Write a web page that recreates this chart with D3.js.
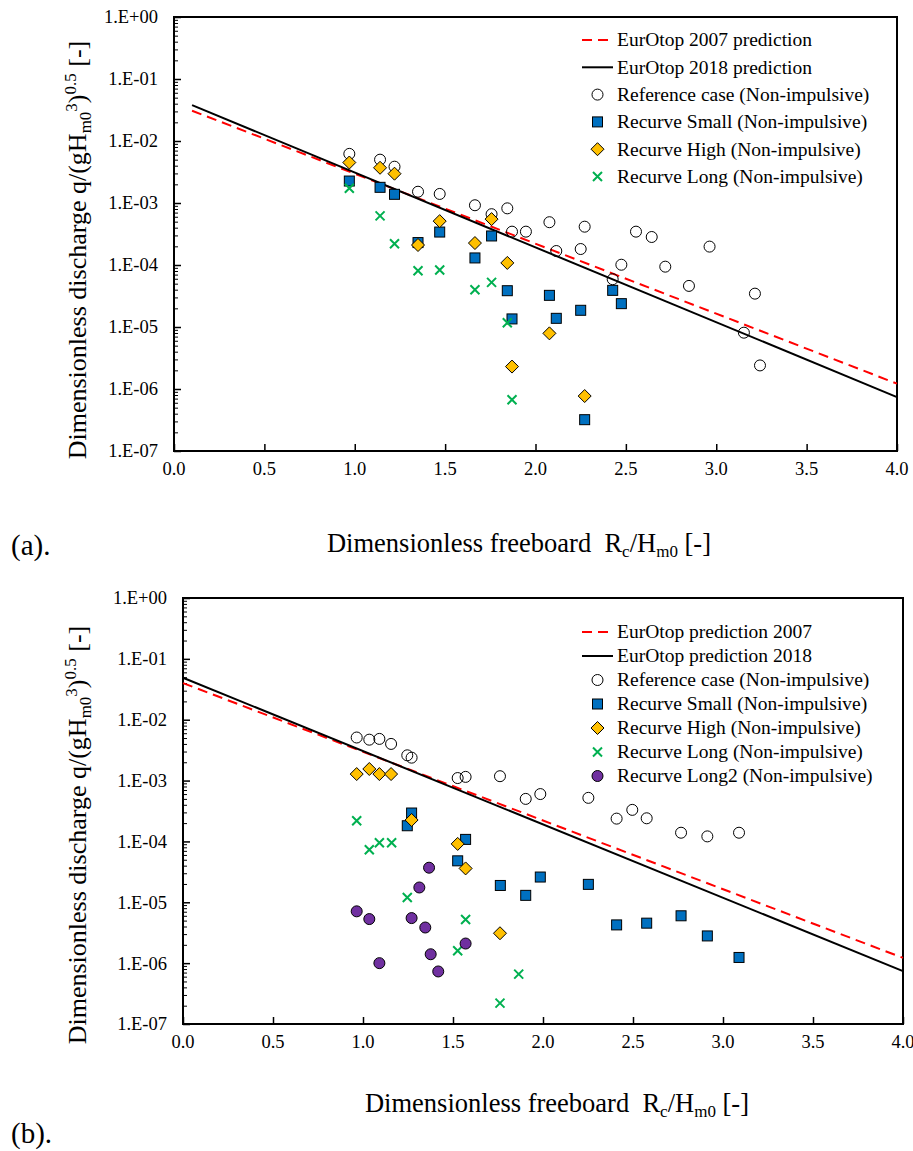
<!DOCTYPE html>
<html><head><meta charset="utf-8">
<script src="https://cdn.jsdelivr.net/npm/d3@7"></script>
<style>
body{margin:0;background:#fff}
svg{display:block}
</style>
</head><body>
<svg id="chart" width="913" height="1151" font-family="Liberation Serif, Times New Roman, DejaVu Serif, serif"></svg>
<script>
// ---------- data ----------
const xTicks = [0, 0.5, 1, 1.5, 2, 2.5, 3, 3.5, 4];
const xTickLabels = ["0.0","0.5","1.0","1.5","2.0","2.5","3.0","3.5","4.0"];
const yTicks = [1, 1e-1, 1e-2, 1e-3, 1e-4, 1e-5, 1e-6, 1e-7];
const yTickLabels = ["1.E+00","1.E-01","1.E-02","1.E-03","1.E-04","1.E-05","1.E-06","1.E-07"];

// Panel (a)
const predA2007_x = [0.1, 4.0];
const predA2007_y = [0.0308, 1.22e-6];
const predA2018_x = [0.1, 4.0];
const predA2018_y = [0.0379, 7.4e-7];
const refA_x = [0.97, 1.14, 1.22, 1.35, 1.47, 1.665, 1.757, 1.844, 1.87, 1.947, 2.077, 2.115, 2.25, 2.272, 2.427, 2.475, 2.556, 2.643, 2.718, 2.849, 2.963, 3.153, 3.214, 3.242];
const refA_y = [6.2e-3, 5.0e-3, 3.85e-3, 1.52e-3, 1.4e-3, 9.2e-4, 6.6e-4, 8.2e-4, 3.45e-4, 3.45e-4, 4.9e-4, 1.68e-4, 1.81e-4, 4.15e-4, 5.9e-5, 1.01e-4, 3.45e-4, 2.83e-4, 9.4e-5, 4.6e-5, 1.98e-4, 8.1e-6, 3.45e-5, 2.4e-6];
const smallA_x = [0.97, 1.14, 1.22, 1.35, 1.47, 1.665, 1.757, 1.844, 1.87, 2.077, 2.115, 2.25, 2.272, 2.427, 2.475];
const smallA_y = [2.26e-3, 1.79e-3, 1.38e-3, 2.3e-4, 3.4e-4, 1.3e-4, 2.94e-4, 3.85e-5, 1.35e-5, 3.24e-5, 1.38e-5, 1.86e-5, 3.2e-7, 3.9e-5, 2.38e-5];
const highA_x = [0.97, 1.14, 1.22, 1.35, 1.47, 1.665, 1.757, 1.844, 1.87, 2.077, 2.272];
const highA_y = [4.5e-3, 3.7e-3, 2.97e-3, 2.1e-4, 5.1e-4, 2.26e-4, 5.5e-4, 1.08e-4, 2.3e-6, 7.9e-6, 7.7e-7];
const longA_x = [0.97, 1.14, 1.22, 1.35, 1.47, 1.665, 1.757, 1.844, 1.87];
const longA_y = [1.73e-3, 6.2e-4, 2.2e-4, 8.1e-5, 8.3e-5, 4.0e-5, 5.25e-5, 1.17e-5, 6.7e-7];

// Panel (b)
const predB2007_x = [0.0, 4.0];
const predB2007_y = [0.040, 1.22e-6];
const predB2018_x = [0.0, 4.0];
const predB2018_y = [0.049, 7.4e-7];
const refB_x = [0.965, 1.035, 1.091, 1.156, 1.246, 1.27, 1.526, 1.57, 1.761, 1.904, 1.985, 2.252, 2.409, 2.496, 2.576, 2.767, 2.913, 3.089];
const refB_y = [5.1e-3, 4.7e-3, 4.84e-3, 4.0e-3, 2.6e-3, 2.38e-3, 1.1e-3, 1.15e-3, 1.18e-3, 5.0e-4, 6.0e-4, 5.2e-4, 2.37e-4, 3.3e-4, 2.4e-4, 1.39e-4, 1.21e-4, 1.39e-4];
const smallB_x = [1.246, 1.27, 1.526, 1.57, 1.763, 1.904, 1.985, 2.252, 2.409, 2.576, 2.767, 2.913, 3.089];
const smallB_y = [1.81e-4, 2.93e-4, 4.8e-5, 1.08e-4, 1.89e-5, 1.3e-5, 2.6e-5, 1.97e-5, 4.25e-6, 4.54e-6, 6.0e-6, 2.8e-6, 1.24e-6];
const highB_x = [0.965, 1.035, 1.091, 1.156, 1.27, 1.526, 1.57, 1.761];
const highB_y = [1.28e-3, 1.55e-3, 1.28e-3, 1.28e-3, 2.25e-4, 9.1e-5, 3.6e-5, 3.1e-6];
const longB_x = [0.965, 1.035, 1.091, 1.159, 1.246, 1.526, 1.57, 1.761, 1.865];
const longB_y = [2.19e-4, 7.3e-5, 9.5e-5, 9.5e-5, 1.2e-5, 1.6e-6, 5.2e-6, 2.2e-7, 6.6e-7];
const long2B_x = [0.965, 1.035, 1.091, 1.27, 1.313, 1.346, 1.367, 1.376, 1.418, 1.57];
const long2B_y = [7.1e-6, 5.3e-6, 1.0e-6, 5.5e-6, 1.75e-5, 3.85e-6, 3.7e-5, 1.4e-6, 7.3e-7, 2.1e-6];

const legendA = ["EurOtop 2007 prediction","EurOtop 2018 prediction","Reference case (Non-impulsive)","Recurve Small (Non-impulsive)","Recurve High (Non-impulsive)","Recurve Long (Non-impulsive)"];
const legendB = ["EurOtop prediction 2007","EurOtop prediction 2018","Reference case (Non-impulsive)","Recurve Small (Non-impulsive)","Recurve High (Non-impulsive)","Recurve Long (Non-impulsive)","Recurve Long2 (Non-impulsive)"];

// ---------- drawing ----------
const FONT = "'Liberation Serif', 'Times New Roman', 'DejaVu Serif', serif";
const svg = d3.select("#chart");
const zip = (xs, ys) => xs.map((x, i) => [x, ys[i]]);

function marker(g, type, cx, cy) {
  if (type === "circle") {
    g.append("circle").attr("cx", cx).attr("cy", cy).attr("r", 5.5)
      .attr("fill", "none").attr("stroke", "#000").attr("stroke-width", 1);
  } else if (type === "square") {
    g.append("rect").attr("x", cx - 5).attr("y", cy - 5).attr("width", 10).attr("height", 10)
      .attr("fill", "#0070C0").attr("stroke", "#000").attr("stroke-width", 1);
  } else if (type === "diamond") {
    const s = 6.5;
    g.append("path").attr("d", `M${cx},${cy - s}L${cx + s},${cy}L${cx},${cy + s}L${cx - s},${cy}Z`)
      .attr("fill", "#FFC000").attr("stroke", "#000").attr("stroke-width", 1);
  } else if (type === "cross") {
    const s = 4.5;
    g.append("path").attr("d", `M${cx - s},${cy - s}L${cx + s},${cy + s}M${cx - s},${cy + s}L${cx + s},${cy - s}`)
      .attr("fill", "none").attr("stroke", "#00B050").attr("stroke-width", 2);
  } else if (type === "purple") {
    g.append("circle").attr("cx", cx).attr("cy", cy).attr("r", 5.5)
      .attr("fill", "#7030A0").attr("stroke", "#000").attr("stroke-width", 1);
  }
}

function txt(g) {
  return g.append("text").attr("font-family", FONT).attr("fill", "#000");
}

function drawPanel(cfg) {
  const x = d3.scaleLinear().domain([0, 4]).range([cfg.left, cfg.right]);
  const y = d3.scaleLog().domain([1e-7, 1]).range([cfg.bottom, cfg.top]);
  const g = svg.append("g");

  // y axis (ticks inside)
  const minor = [];
  for (let d = -7; d < 0; d++) for (let k = 2; k <= 9; k++) minor.push(k * Math.pow(10, d));
  g.append("g").attr("transform", `translate(${cfg.left},0)`)
    .call(d3.axisRight(y).tickValues(minor).tickSize(4).tickFormat(""))
    .call(a => a.select(".domain").remove())
    .call(a => a.selectAll("line").attr("stroke", "#000").attr("stroke-width", 1));
  g.append("g").attr("transform", `translate(${cfg.left},0)`)
    .call(d3.axisRight(y).tickValues(yTicks).tickSize(7).tickFormat(""))
    .call(a => a.select(".domain").remove())
    .call(a => a.selectAll("line").attr("stroke", "#000").attr("stroke-width", 1.5));
  yTicks.forEach((v, i) => {
    txt(g).attr("x", cfg.left - 16).attr("y", y(v)).attr("dy", "0.35em")
      .attr("text-anchor", "end").attr("font-size", 18.5).text(yTickLabels[i]);
  });

  // x axis (ticks inside)
  g.append("g").attr("transform", `translate(0,${cfg.bottom})`)
    .call(d3.axisTop(x).tickValues(xTicks).tickSize(7).tickFormat(""))
    .call(a => a.select(".domain").remove())
    .call(a => a.selectAll("line").attr("stroke", "#000").attr("stroke-width", 1.5));
  xTicks.forEach((v, i) => {
    txt(g).attr("x", x(v)).attr("y", cfg.bottom + 18).attr("dy", "0.35em")
      .attr("text-anchor", "middle").attr("font-size", 18.5).text(xTickLabels[i]);
  });

  // frame
  g.append("rect").attr("x", cfg.left).attr("y", cfg.top)
    .attr("width", cfg.right - cfg.left).attr("height", cfg.bottom - cfg.top)
    .attr("fill", "none").attr("stroke", "#000").attr("stroke-width", 2);

  // prediction lines
  const line = d3.line().x(d => x(d[0])).y(d => y(d[1]));
  g.append("path").datum(zip(cfg.p2007x, cfg.p2007y)).attr("d", line)
    .attr("fill", "none").attr("stroke", "#FF0000").attr("stroke-width", 2).attr("stroke-dasharray", "10,6");
  g.append("path").datum(zip(cfg.p2018x, cfg.p2018y)).attr("d", line)
    .attr("fill", "none").attr("stroke", "#000").attr("stroke-width", 2);

  // scatter series
  cfg.series.forEach(s => {
    const sg = g.append("g");
    zip(s.x, s.y).forEach(d => marker(sg, s.type, x(d[0]), y(d[1])));
  });

  // legend
  const lg = g.append("g");
  const types = ["dash", "solid"].concat(cfg.series.map(s => s.type));
  cfg.legend.forEach((label, i) => {
    const ly = cfg.legTop + i * cfg.legStep;
    const t = types[i];
    if (t === "dash") {
      lg.append("line").attr("x1", cfg.legX).attr("x2", cfg.legX + 31).attr("y1", ly).attr("y2", ly)
        .attr("stroke", "#FF0000").attr("stroke-width", 2).attr("stroke-dasharray", "10,6");
    } else if (t === "solid") {
      lg.append("line").attr("x1", cfg.legX).attr("x2", cfg.legX + 31).attr("y1", ly).attr("y2", ly)
        .attr("stroke", "#000").attr("stroke-width", 2);
    } else {
      marker(lg, t, cfg.legX + 15.5, ly);
    }
    txt(lg).attr("x", cfg.legX + 35).attr("y", ly).attr("dy", "0.33em")
      .attr("font-size", 19.5).text(label);
  });

  // y title
  const yt = txt(g).attr("transform", `translate(${cfg.yTitleX},${cfg.yTitleY}) rotate(-90)`)
    .attr("text-anchor", "middle").attr("font-size", 26);
  yt.append("tspan").text("Dimensionless discharge q/(gH");
  yt.append("tspan").attr("font-size", 17).attr("dy", 5).text("m0");
  yt.append("tspan").attr("font-size", 17).attr("dy", -14).text("3");
  yt.append("tspan").attr("dy", 9).text(")");
  yt.append("tspan").attr("font-size", 17).attr("dy", -10).text("0.5");
  yt.append("tspan").attr("dy", 10).text("\u00a0[-]");

  // x title
  const xt = txt(g).attr("x", cfg.xTitleX).attr("y", cfg.xTitleY)
    .attr("text-anchor", "middle").attr("font-size", 26.5);
  xt.append("tspan").text("Dimensionless freeboard\u00a0\u00a0R");
  xt.append("tspan").attr("font-size", 17).attr("dy", 5).text("c");
  xt.append("tspan").attr("dy", -5).text("/H");
  xt.append("tspan").attr("font-size", 17).attr("dy", 5).text("m0");
  xt.append("tspan").attr("dy", -5).text("\u00a0[-]");

  // panel label
  txt(g).attr("x", 11).attr("y", cfg.labelY).attr("font-size", 29).text(cfg.label);
}

drawPanel({
  left: 174, right: 897, top: 17, bottom: 451,
  p2007x: predA2007_x, p2007y: predA2007_y, p2018x: predA2018_x, p2018y: predA2018_y,
  series: [
    {type: "circle", x: refA_x, y: refA_y},
    {type: "square", x: smallA_x, y: smallA_y},
    {type: "diamond", x: highA_x, y: highA_y},
    {type: "cross", x: longA_x, y: longA_y}
  ],
  legend: legendA, legX: 582, legTop: 40, legStep: 27.3,
  yTitleX: 86, yTitleY: 250, xTitleX: 519, xTitleY: 552,
  label: "(a).", labelY: 555
});

drawPanel({
  left: 183, right: 903, top: 598, bottom: 1024,
  p2007x: predB2007_x, p2007y: predB2007_y, p2018x: predB2018_x, p2018y: predB2018_y,
  series: [
    {type: "circle", x: refB_x, y: refB_y},
    {type: "square", x: smallB_x, y: smallB_y},
    {type: "diamond", x: highB_x, y: highB_y},
    {type: "cross", x: longB_x, y: longB_y},
    {type: "purple", x: long2B_x, y: long2B_y}
  ],
  legend: legendB, legX: 582, legTop: 632, legStep: 24,
  yTitleX: 86, yTitleY: 835, xTitleX: 557, xTitleY: 1112,
  label: "(b).", labelY: 1143
});
</script>
</body></html>
